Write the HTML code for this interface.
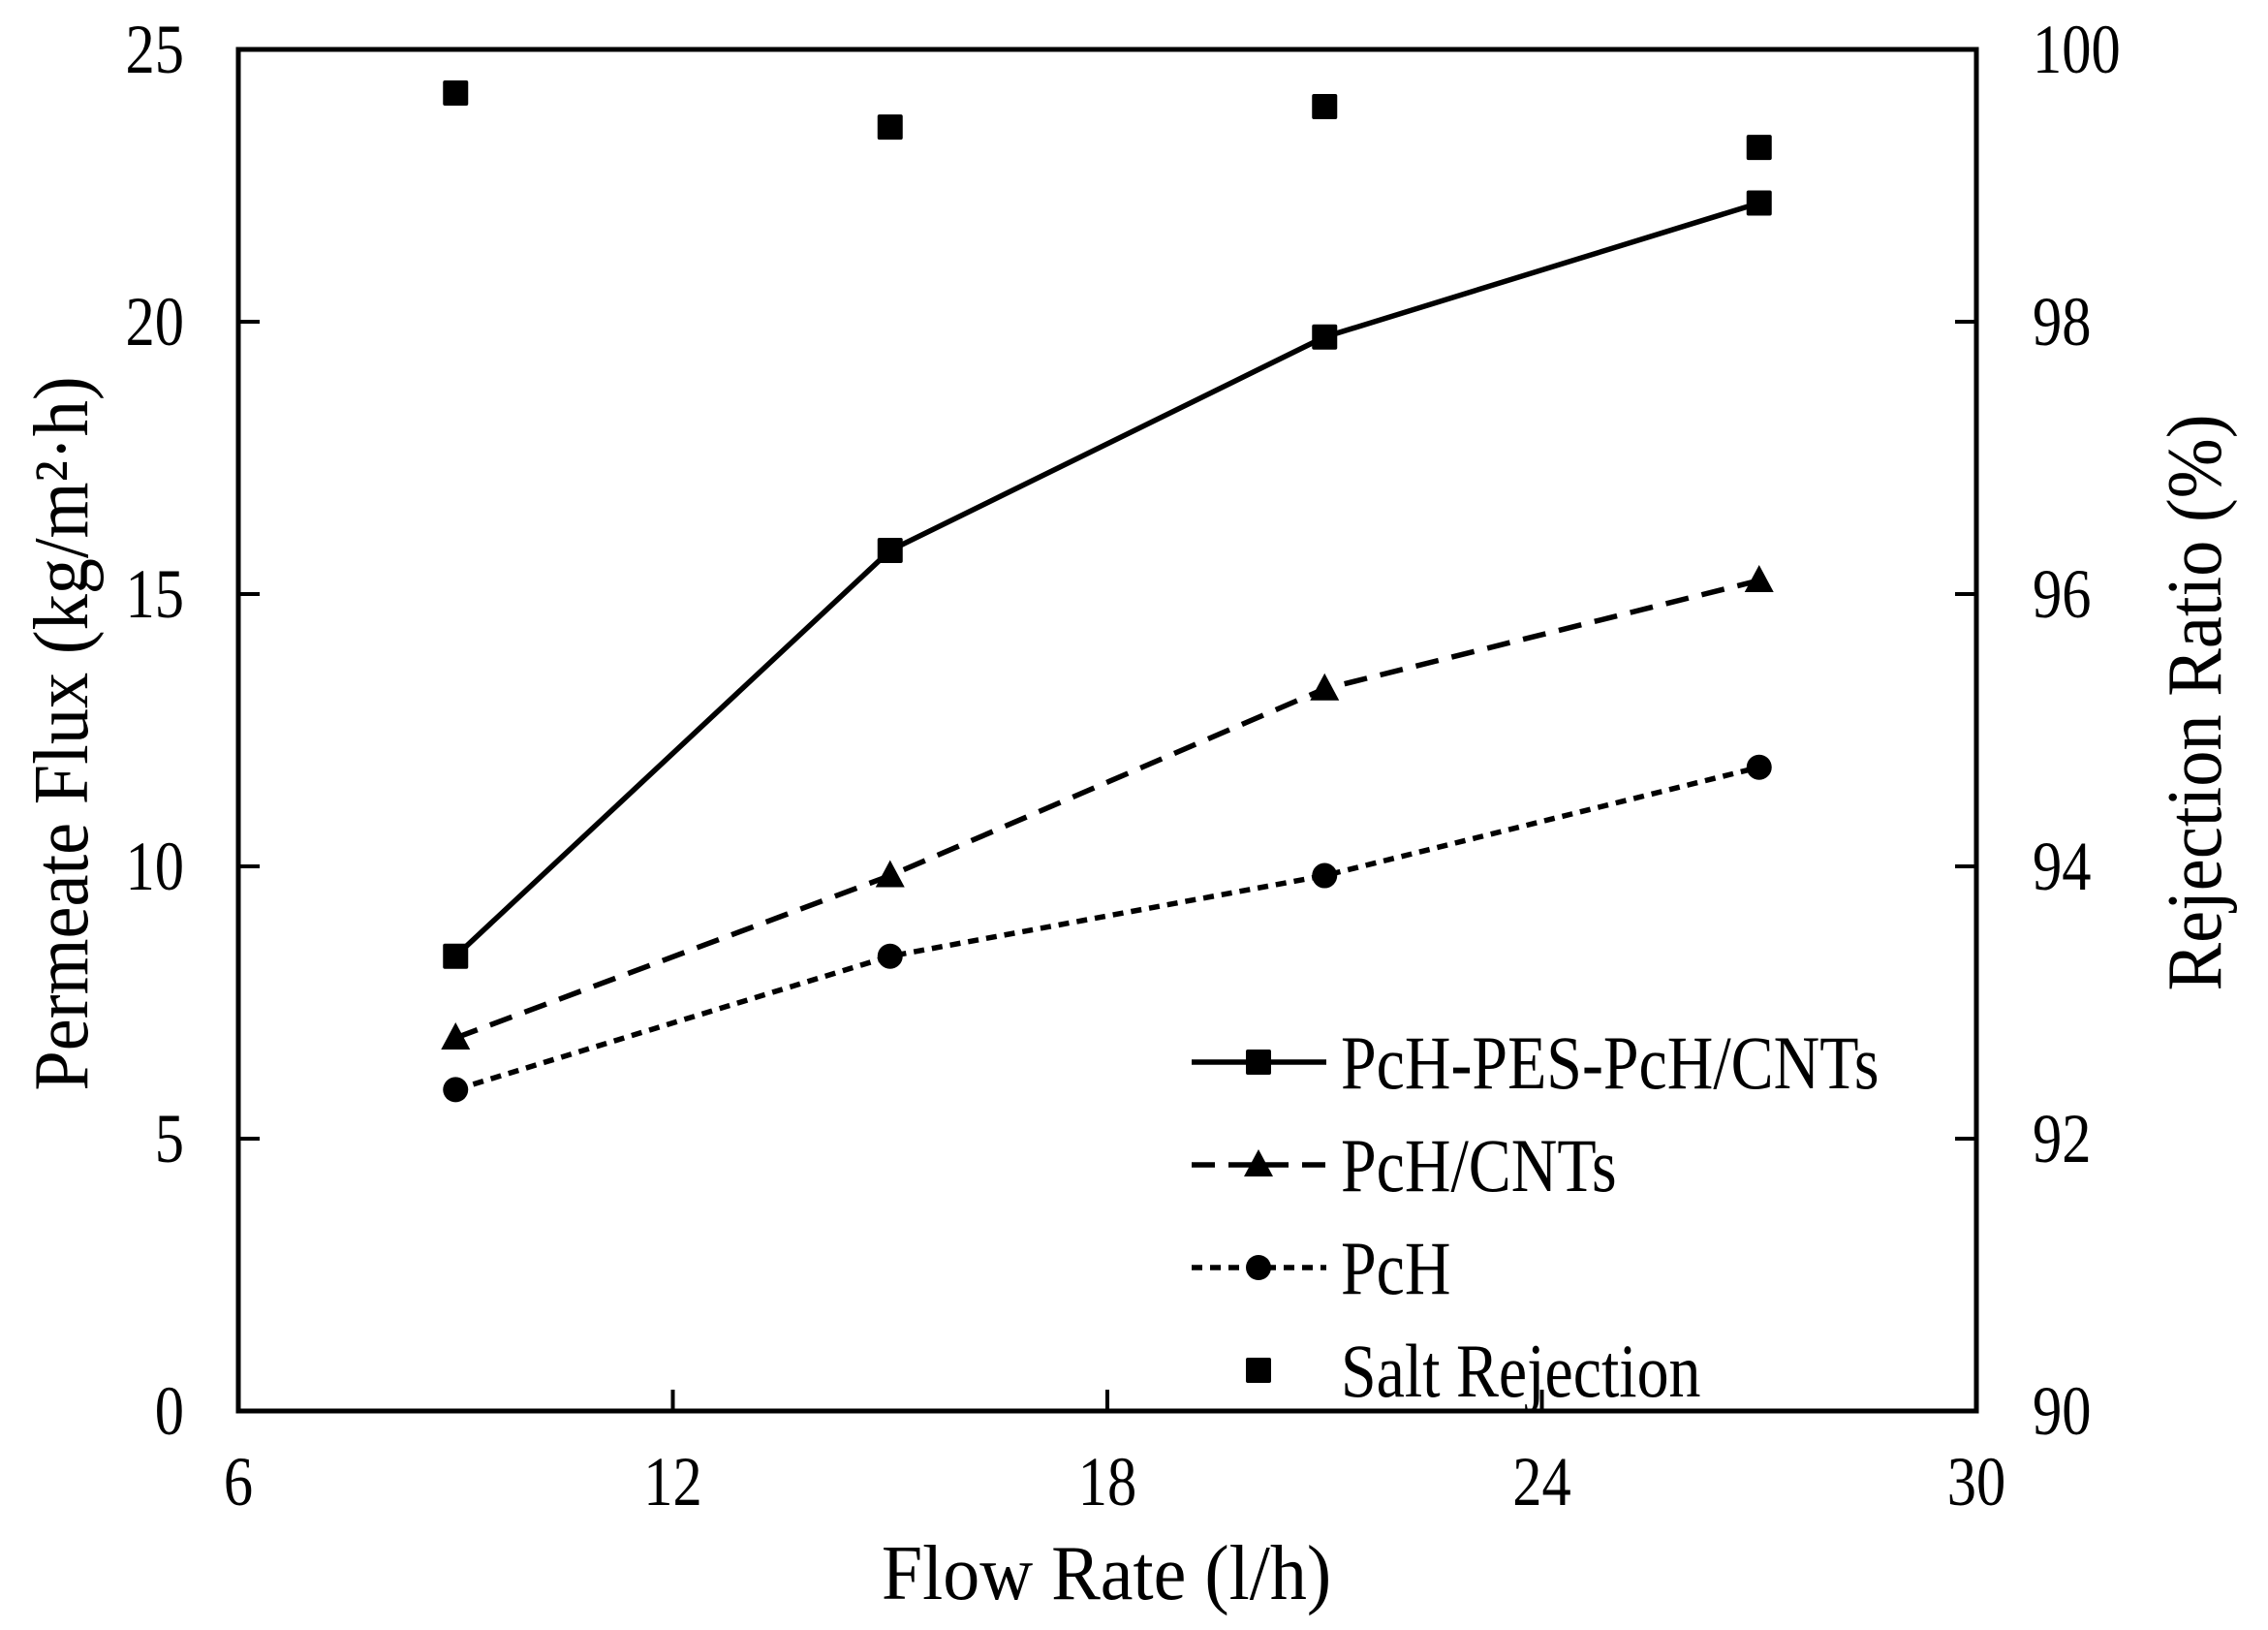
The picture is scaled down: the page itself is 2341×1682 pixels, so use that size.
<!DOCTYPE html>
<html><head><meta charset="utf-8"><style>
html,body{margin:0;padding:0;background:#fff;}
svg{display:block;}
text{font-family:"Liberation Serif",serif;fill:#000;}
</style></head><body>
<svg id="chart" width="2341" height="1682" viewBox="0 0 2341 1682" xmlns="http://www.w3.org/2000/svg"></svg>
<script>
const flowRates = [9, 15, 21, 27];
const fluxPesCnt = [8.35, 15.8, 19.72, 22.18];
const fluxCnt = [6.85, 9.83, 13.26, 15.25];
const fluxPch = [5.9, 8.35, 9.83, 11.82];
const saltRejection = [99.68, 99.43, 99.58, 99.28];
const xTicks = [6, 12, 18, 24, 30];
const yLeftTicks = [0, 5, 10, 15, 20, 25];
const yRightTicks = [90, 92, 94, 96, 98, 100];

const NS = "http://www.w3.org/2000/svg";
const svg = document.getElementById('chart');
const L = 246, R = 2040, T = 51, B = 1456;
const xS = v => L + (v - 6) / 24 * (R - L);
const yL = v => B - v / 25 * (B - T);
const yR = v => B - (v - 90) / 10 * (B - T);

function mk(tag, attrs, parent) {
  const e = document.createElementNS(NS, tag);
  for (const k in attrs) e.setAttribute(k, attrs[k]);
  (parent || svg).appendChild(e);
  return e;
}
function txt(s, x, y, size, anchor, rot, sx) {
  let tr = `translate(${x},${y})`;
  if (rot) tr += ` rotate(${rot})`;
  tr += ` scale(${sx || 0.84},1)`;
  const t = mk('text', {transform: tr, 'font-size': size, 'text-anchor': anchor});
  t.textContent = s;
  return t;
}

// ticks
xTicks.forEach(v => {
  const l = mk('line', {x1: xS(v), x2: xS(v), y1: B, y2: B - 22, stroke: '#000', 'stroke-width': 4});
  
  
  const t = txt(String(v), xS(v), 1553, 72, 'middle');
  
  
});
yLeftTicks.forEach(v => {
  const l = mk('line', {x1: L, x2: L + 22, y1: yL(v), y2: yL(v), stroke: '#000', 'stroke-width': 4});
  
  
  const t = txt(String(v), 190, yL(v) + 24, 72, 'end');
  
  
});
yRightTicks.forEach(v => {
  const l = mk('line', {x1: R, x2: R - 22, y1: yR(v), y2: yR(v), stroke: '#000', 'stroke-width': 4});
  
  
  const t = txt(String(v), 2098, yR(v) + 24, 72, 'start');
  
  
});

// frame
const fr = mk('rect', {x: L, y: T, width: R - L, height: B - T, fill: 'none', stroke: '#000', 'stroke-width': 5});



// axis titles
let at = txt('Flow Rate (l/h)', 1142, 1650, 80, 'middle', 0, 0.95);


at = txt('Permeate Flux (kg/m²·h)', 90, 757, 80, 'middle', -90, 0.93);


at = txt('Rejection Ratio (%)', 2292, 725, 80, 'middle', -90, 0.93);



function marker(kind, cx, cy, name) {
  let e;
  if (kind === 'square') e = mk('rect', {x: cx - 13, y: cy - 13, width: 26, height: 26, rx: 2, fill: '#000'});
  else if (kind === 'tri') e = mk('polygon', {points: `${cx},${cy - 16} ${cx + 15},${cy + 12} ${cx - 15},${cy + 12}`, fill: '#000'});
  else e = mk('circle', {cx: cx, cy: cy, r: 13, fill: '#000'});
  
  
}
function series(vals, dash, kind, name) {
  const pts = flowRates.map((x, i) => xS(x) + ',' + yL(vals[i])).join(' ');
  const p = mk('polyline', {points: pts, fill: 'none', stroke: '#000', 'stroke-width': 5.5, 'stroke-dasharray': dash});
  
  
  flowRates.forEach((x, i) => marker(kind, xS(x), yL(vals[i]), name + '-point'));
}
series(fluxPch, '11 8', 'circle', 'pch');
series(fluxCnt, '24 14', 'tri', 'pch-cnts');
series(fluxPesCnt, 'none', 'square', 'pch-pes-pch-cnts');
flowRates.forEach((x, i) => marker('square', xS(x), yR(saltRejection[i]), 'salt-rejection-point'));

// legend
const legend = [
  ['PcH-PES-PcH/CNTs', 'none', 'square', 1096, true],
  ['PcH/CNTs', '24 14', 'tri', 1202, true],
  ['PcH', '11 8', 'circle', 1308, true],
  ['Salt Rejection', 'none', 'square', 1414, false]
];
legend.forEach(([lab, dash, kind, y, line]) => {
  const g = mk('g', {});
  
  
  if (line) {
    const l = mk('line', {x1: 1230, x2: 1369, y1: y, y2: y, stroke: '#000', 'stroke-width': 5.5, 'stroke-dasharray': dash}, g);
    
    
  }
  marker(kind, 1299, y, 'legend-marker');
  const t = txt(lab, 1384, y + 27, 78, 'start', 0, 0.845);
  
  
});
</script>
</body></html>
